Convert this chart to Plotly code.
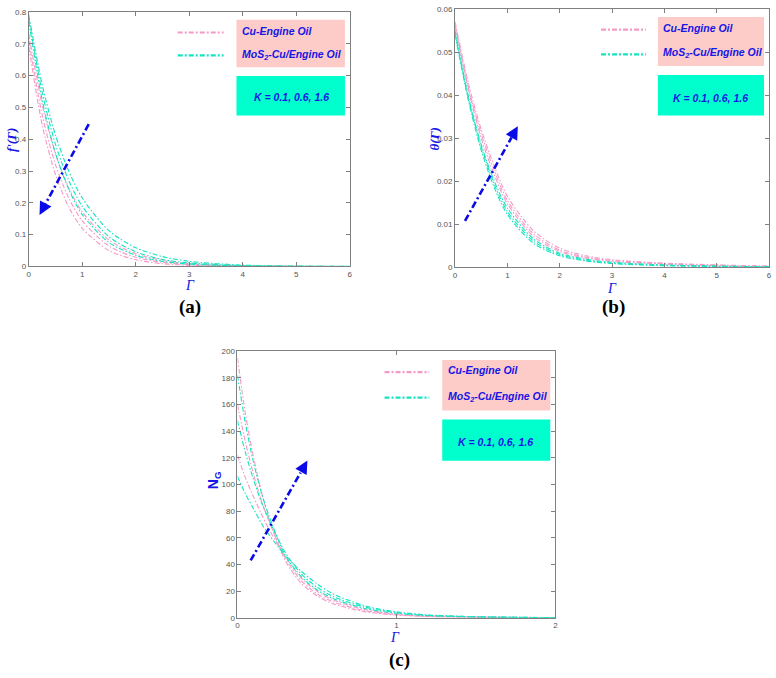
import plotly.graph_objects as go

W, H = 776, 678

# ---------------- data ----------------
# panel (a): f'(Gamma)
gam_a = [0, 0.25, 0.5, 0.75, 1, 1.5, 2, 2.5, 3, 4, 5, 6]
fa_cu = [
    [0.73, 0.508, 0.353, 0.246, 0.171, 0.083, 0.040, 0.019, 0.0094, 0.0022, 0.0005, 0.0001],
    [0.71, 0.476, 0.319, 0.214, 0.143, 0.064, 0.029, 0.013, 0.0058, 0.0012, 0.0002, 0.0000],
    [0.69, 0.445, 0.288, 0.186, 0.120, 0.050, 0.021, 0.0087, 0.0036, 0.0006, 0.0001, 0.0000],
]
fa_mos = [
    [0.79, 0.571, 0.412, 0.298, 0.215, 0.112, 0.059, 0.031, 0.016, 0.0044, 0.0012, 0.0003],
    [0.78, 0.547, 0.383, 0.269, 0.189, 0.093, 0.046, 0.022, 0.011, 0.0027, 0.0006, 0.0002],
    [0.77, 0.523, 0.355, 0.241, 0.163, 0.075, 0.035, 0.016, 0.0074, 0.0016, 0.0003, 0.0001],
]
# panel (b): theta(Gamma)
gam_b = [0, 0.25, 0.5, 0.75, 1, 1.5, 2, 2.5, 3, 4, 5, 6]
tb_cu = [
    [0.057, 0.043, 0.032, 0.0235, 0.0165, 0.0085, 0.0045, 0.0027, 0.0018, 0.0010, 0.0006, 0.0003],
    [0.0565, 0.042, 0.031, 0.0225, 0.0155, 0.0078, 0.0040, 0.0024, 0.0016, 0.0009, 0.0005, 0.0003],
    [0.056, 0.0415, 0.030, 0.0215, 0.0148, 0.0072, 0.0037, 0.0022, 0.0014, 0.0008, 0.0004, 0.0002],
]
tb_mos = [
    [0.055, 0.040, 0.0285, 0.020, 0.0138, 0.0066, 0.0033, 0.0019, 0.0012, 0.0006, 0.0003, 0.0002],
    [0.0545, 0.0395, 0.028, 0.0193, 0.0130, 0.0061, 0.0030, 0.0017, 0.0010, 0.0005, 0.0003, 0.0001],
    [0.054, 0.039, 0.0272, 0.0185, 0.0123, 0.0056, 0.0027, 0.0015, 0.0009, 0.0004, 0.0002, 0.0001],
]
# panel (c): N_G
gam_c = [0, 0.05, 0.1, 0.15, 0.2, 0.3, 0.4, 0.5, 0.6, 0.8, 1.0, 1.2, 1.5, 2.0]
ng_cu = [
    [195, 153, 121, 95, 74, 43, 26, 16.5, 10.5, 4.6, 2.0, 0.9, 0.3, 0.05],
    [160, 132, 108, 88, 72, 45, 28, 18, 12, 5.4, 2.4, 1.1, 0.4, 0.1],
    [122, 105, 91, 78, 66, 46, 30, 20, 13.5, 6.2, 2.8, 1.3, 0.5, 0.1],
]
ng_mos = [
    [182, 146, 117, 94, 76, 47, 31, 21, 14.5, 7.0, 3.4, 1.6, 0.6, 0.1],
    [148, 124, 104, 87, 73, 49, 33, 23, 16, 8.0, 3.9, 1.9, 0.7, 0.1],
    [106, 93, 82, 71, 62, 47, 35, 25.5, 18, 9.0, 4.4, 2.1, 0.8, 0.1],
]

x_ticks_ab = [0, 1, 2, 3, 4, 5, 6]
y_ticks_a = [0, 0.1, 0.2, 0.3, 0.4, 0.5, 0.6, 0.7, 0.8]
y_ticks_b = [0, 0.01, 0.02, 0.03, 0.04, 0.05, 0.06]
x_ticks_c = [0, 1, 2]
y_ticks_c = [0, 20, 40, 60, 80, 100, 120, 140, 160, 180, 200]

legend_labels = ["<b><i>Cu-Engine Oil</i></b>", "<b><i>MoS<sub>2</sub>-Cu/Engine Oil</i></b>"]
param_label = "<b><i>K = 0.1, 0.6, 1.6</i></b>"

# arrows: (tail, head) in data coords
arrow_a = [(1.12, 0.447), (0.2, 0.162)]
arrow_b = [(0.19, 0.0108), (1.2, 0.0328)]
arrow_c = [(0.083, 43), (0.44, 118)]

# ---------------- style ----------------
PINK = "#F59AC6"
TEAL = "#17E3BF"
BOX_PINK = "#FDCBC8"
BOX_TEAL = "#00FFCC"
BLUE = "#1616E6"
ARROW = "#0A0AE8"
GRAY = "#808080"
DASH = "5px,2px,1.5px,2px"

# pixel layout of plot areas (left, right, top, bottom)
areas = {
    "a": (27, 350, 8, 266),
    "b": (456, 772, 5, 267),
    "c": (237, 557, 352, 622),
}

def xd(a):
    l, r, t, b = areas[a]
    return [l / W, r / W]

def yd(a):
    l, r, t, b = areas[a]
    return [1 - b / H, 1 - t / H]

fig = go.Figure()

def add_curves(xs, cu, mos, xa, ya):
    for ys in cu:
        fig.add_trace(go.Scatter(x=xs, y=ys, mode="lines", xaxis=xa, yaxis=ya,
                                 line=dict(color=PINK, width=1.1, dash=DASH, shape="spline", smoothing=0.8),
                                 showlegend=False, hoverinfo="skip"))
    for ys in mos:
        fig.add_trace(go.Scatter(x=xs, y=ys, mode="lines", xaxis=xa, yaxis=ya,
                                 line=dict(color=TEAL, width=1.1, dash=DASH, shape="spline", smoothing=0.8),
                                 showlegend=False, hoverinfo="skip"))

add_curves(gam_a, fa_cu, fa_mos, "x", "y")
add_curves(gam_b, tb_cu, tb_mos, "x2", "y2")
add_curves(gam_c, ng_cu, ng_mos, "x3", "y3")

axis_common = dict(showline=True, linecolor=GRAY, linewidth=1, mirror="ticks", ticks="inside",
                   ticklen=4, tickcolor=GRAY, showgrid=False, zeroline=False,
                   tickfont=dict(family="Arial", size=8, color="#555555"))

fig.update_layout(
    width=W, height=H, margin=dict(l=0, r=0, t=0, b=0),
    paper_bgcolor="white", plot_bgcolor="white", showlegend=False,
    xaxis=dict(domain=xd("a"), range=[0, 6], tickvals=x_ticks_ab, anchor="y", **axis_common),
    yaxis=dict(domain=yd("a"), range=[0, 0.8], tickvals=y_ticks_a, anchor="x", **axis_common),
    xaxis2=dict(domain=xd("b"), range=[0, 6], tickvals=x_ticks_ab, anchor="y2", **axis_common),
    yaxis2=dict(domain=yd("b"), range=[0, 0.06], tickvals=y_ticks_b, anchor="x2", **axis_common),
    xaxis3=dict(domain=xd("c"), range=[0, 2], tickvals=x_ticks_c, anchor="y3", **axis_common),
    yaxis3=dict(domain=yd("c"), range=[0, 200], tickvals=y_ticks_c, anchor="x3", **axis_common),
)

shapes = []
annotations = []

legend_geo = {
    "a": dict(lx=(0.464, 0.607), ly=(0.919, 0.829), pb=(0.647, 0.985, 0.783, 0.969), tb=(0.593, 0.748),
              tx=0.659, ty=(0.926, 0.829), kx=0.817, ky=0.665),
    "b": dict(lx=(0.465, 0.608), ly=(0.920, 0.824), pb=(0.646, 0.984, 0.779, 0.969), tb=(0.588, 0.744),
              tx=0.655, ty=(0.927, 0.828), kx=0.813, ky=0.656),
    "c": dict(lx=(0.4625, 0.603), ly=(0.922, 0.826), pb=(0.644, 0.984, 0.778, 0.967), tb=(0.589, 0.744),
              tx=0.656, ty=(0.930, 0.830), kx=0.8125, ky=0.659),
}
axes_ids = {"a": ("x", "y"), "b": ("x2", "y2"), "c": ("x3", "y3")}

for key, g in legend_geo.items():
    xa, ya = axes_ids[key]
    xr, yr = xa + " domain", ya + " domain"
    x0, x1, y0, y1 = g["pb"]
    shapes.append(dict(type="rect", xref=xr, yref=yr, x0=x0, x1=x1, y0=y0, y1=y1,
                       fillcolor=BOX_PINK, line=dict(width=0), layer="below"))
    shapes.append(dict(type="rect", xref=xr, yref=yr, x0=x0, x1=x1, y0=g["tb"][0], y1=g["tb"][1],
                       fillcolor=BOX_TEAL, line=dict(width=0), layer="below"))
    for yy, col in zip(g["ly"], [PINK, TEAL]):
        shapes.append(dict(type="line", xref=xr, yref=yr, x0=g["lx"][0], x1=g["lx"][1], y0=yy, y1=yy,
                           line=dict(color=col, width=2.2, dash="5px,2px,2px,2px")))
    for yy, txt in zip(g["ty"], legend_labels):
        annotations.append(dict(xref=xr, yref=yr, x=g["tx"], y=yy, text=txt, showarrow=False,
                                xanchor="left", yanchor="middle",
                                font=dict(family="Arial", size=10.5, color=BLUE)))
    annotations.append(dict(xref=xr, yref=yr, x=g["kx"], y=g["ky"], text=param_label, showarrow=False,
                            xanchor="center", yanchor="middle",
                            font=dict(family="Arial", size=10.5, color=BLUE)))

for key, arr in zip(["a", "b", "c"], [arrow_a, arrow_b, arrow_c]):
    xa, ya = axes_ids[key]
    (tx, ty), (hx, hy) = arr
    bx = hx + (tx - hx) * 0.12
    by = hy + (ty - hy) * 0.12
    shapes.append(dict(type="line", xref=xa, yref=ya, x0=tx, y0=ty, x1=bx, y1=by,
                       line=dict(color=ARROW, width=2.6, dash="7px,3px,2px,3px")))
    annotations.append(dict(xref=xa, yref=ya, x=hx, y=hy, ax=bx, ay=by, axref=xa, ayref=ya,
                            text="", showarrow=True, arrowhead=2, arrowsize=1.0, arrowwidth=2.6,
                            arrowcolor=ARROW, standoff=0, startstandoff=0))

def P(px, py):
    return px / W, 1 - py / H

for (px, py) in [(189, 285), (614, 288), (396, 642)]:
    x, y = P(px, py)
    annotations.append(dict(xref="paper", yref="paper", x=x, y=y, text="<i>Γ</i>", showarrow=False,
                            xanchor="center", yanchor="middle",
                            font=dict(family="Liberation Serif", size=14, color=BLUE)))
ytitles = [((9, 138), "<b><i>f'(Γ)</i></b>", "Liberation Serif", 13),
           ((435, 137), "<b><i>θ(Γ)</i></b>", "Liberation Serif", 13),
           ((213, 483), "<b>N<sub>G</sub></b>", "Arial", 14)]
for (px, py), txt, fam, sz in ytitles:
    x, y = P(px, py)
    annotations.append(dict(xref="paper", yref="paper", x=x, y=y, text=txt, showarrow=False, textangle=-90,
                            xanchor="center", yanchor="middle",
                            font=dict(family=fam, size=sz, color=BLUE)))
for (px, py), txt in [((189, 307), "(a)"), ((615, 307), "(b)"), ((400, 665), "(c)")]:
    x, y = P(px, py)
    annotations.append(dict(xref="paper", yref="paper", x=x, y=y, text="<b>" + txt + "</b>", showarrow=False,
                            xanchor="center", yanchor="middle",
                            font=dict(family="Liberation Serif", size=19, color="black")))

fig.update_layout(shapes=shapes, annotations=annotations)
fig.write_html("out.html", config={"displayModeBar": False},
               post_script="document.body.style.margin='0';document.body.style.overflow='hidden';")
